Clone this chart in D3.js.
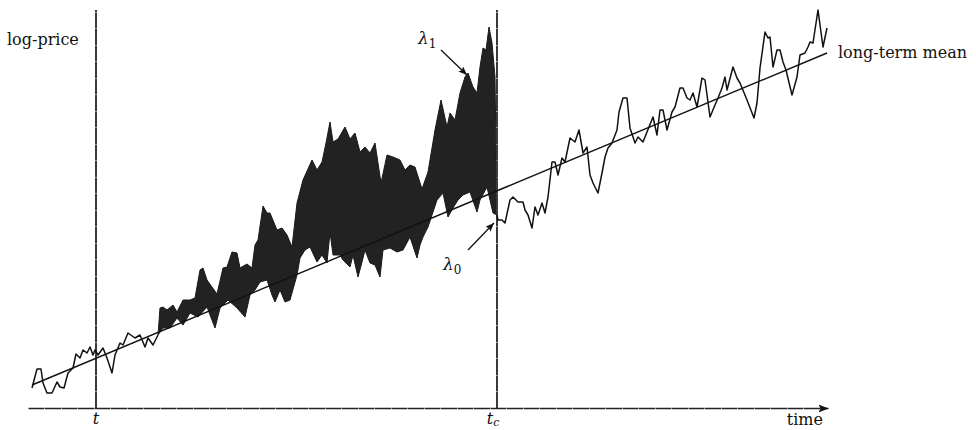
<html>
<head>
  <meta charset="utf-8">
  <title>log-price</title>
  <style>
    body { margin: 0; background: #fff; }
    text { font-family: "DejaVu Serif", "Liberation Serif", serif; fill: #111; }
  </style>
</head>
<body>
<script src="https://d3js.org/d3.v7.min.js"></script>
<script>

// [time, log-price]
var pricePre = [
  [4,20],[9,39],[13,39],[15,25],[19,15],[24,15],[29,26],[32,21],[36,20],[40,35],
  [45,40],[48,54],[52,50],[55,58],[59,55],[62,61],[65,53],[67,58],[70,53],[75,60],
  [79,50],[84,35],[87,53],[92,65],[95,63],[100,75],[107,70],[112,73],[117,61],[120,70],
  [125,63],[130,73]
];

// upper and lower edge of the dense (shaded) part
var bandUpper = [
  [130,73],[132,100],[135,101],[139,98],[145,103],[149,96],[155,108],[162,108],[167,110],[172,138],
  [175,140],[179,128],[189,114],[195,140],[199,141],[204,156],[209,155],[212,140],[219,144],[224,140],
  [227,163],[230,168],[235,202],[239,195],[242,195],[249,178],[254,180],[259,173],[264,161],[269,205],
  [275,228],[284,248],[289,238],[294,246],[298,265],[302,286],[305,266],[310,269],[317,281],[322,269],
  [327,275],[332,256],[337,261],[342,255],[347,265],[353,225],[359,253],[365,251],[372,248],[377,238],
  [382,243],[387,241],[394,219],[400,236],[407,278],[413,308],[419,281],[422,295],[427,288],[432,315],
  [437,331],[440,335],[445,321],[449,315],[452,341],[455,360],[458,358],[461,381],[464,365],[467,331],
  [468,258],[469,193]
];
var bandLower = [
  [130,73],[135,80],[142,80],[149,90],[155,83],[162,95],[170,91],[179,101],[187,80],[192,100],
  [200,108],[209,100],[217,91],[222,113],[227,118],[232,126],[239,128],[244,113],[247,106],[252,118],
  [257,106],[262,108],[269,133],[272,150],[277,158],[282,161],[289,146],[294,153],[299,145],[302,176],
  [305,153],[312,153],[315,148],[322,141],[325,153],[330,131],[334,146],[337,158],[342,145],[347,143],
  [352,131],[355,158],[362,160],[369,156],[375,158],[382,171],[389,150],[392,163],[395,171],[400,181],
  [404,193],[409,208],[415,215],[420,191],[425,200],[430,208],[435,213],[442,216],[449,196],[452,208],
  [459,221],[465,195],[469,193]
];

var pricePost = [
  [469,193],[470,188],[474,188],[477,185],[482,208],[485,211],[490,206],[495,206],[497,198],[500,193],
  [504,180],[507,201],[510,193],[514,205],[517,195],[520,211],[524,246],[527,246],[530,233],[534,250],
  [537,246],[542,270],[547,266],[551,278],[555,255],[559,261],[562,233],[565,225],[570,215],[574,235],
  [577,251],[580,260],[584,265],[589,278],[591,296],[595,310],[599,310],[602,280],[607,265],[610,271],
  [615,266],[619,276],[625,291],[629,273],[632,298],[635,298],[639,278],[644,296],[647,301],[652,320],
  [655,320],[659,310],[662,308],[665,315],[669,301],[674,330],[677,328],[682,291],[687,303],[690,310],
  [694,320],[697,331],[699,318],[705,341],[709,330],[712,325],[719,308],[726,290],[729,305],[732,340],
  [737,376],[740,370],[742,371],[745,341],[749,358],[752,358],[755,346],[758,338],[764,313],[769,331],
  [772,353],[777,355],[780,361],[782,366],[785,365],[790,398],[795,361],[799,380]
];

var meanLine = [[4,23],[799,355]];

var markerTimes = [68, 469];
var markerLabels = ["t", "c"];   // second one is t with subscript c

// annotation arrows: [from, to], label position
var notes = [
  {name: "1", from: [413,358], to: [439,333], at: [390,364]},
  {name: "0", from: [440,158], to: [466,185], at: [415,138]}
];

var svg = d3.select("body").append("svg")
    .attr("width", 976)
    .attr("height", 430);

var x = d3.scaleLinear().domain([0, 800]).range([28, 828]);
var y = d3.scaleLinear().domain([0, 400]).range([408, 8]);

var line = d3.line()
    .x(function(d) { return x(d[0]); })
    .y(function(d) { return y(d[1]); });

var defs = svg.append("defs");
defs.append("marker")
    .attr("id", "axisArrow")
    .attr("viewBox", "0 0 10 8")
    .attr("refX", 10).attr("refY", 4)
    .attr("markerWidth", 10).attr("markerHeight", 8)
    .attr("markerUnits", "userSpaceOnUse")
    .attr("orient", "auto")
  .append("path")
    .attr("d", "M0,0L10,4L0,8L2,4Z")
    .attr("fill", "#111");
defs.append("marker")
    .attr("id", "noteArrow")
    .attr("viewBox", "0 0 10 8")
    .attr("refX", 10).attr("refY", 4)
    .attr("markerWidth", 9).attr("markerHeight", 7)
    .attr("markerUnits", "userSpaceOnUse")
    .attr("orient", "auto")
  .append("path")
    .attr("d", "M0,0L10,4L0,8L2,4Z")
    .attr("fill", "#111");

// shaded band
svg.append("path")
    .attr("d", line(bandUpper.concat(bandLower.slice().reverse())) + "Z")
    .attr("fill", "#222")
    .attr("stroke", "#1a1a1a")
    .attr("stroke-width", 1);

// vertical markers t and t_c
svg.selectAll(".mark")
    .data(markerTimes)
  .enter().append("line")
    .attr("class", "mark")
    .attr("x1", function(d) { return x(d); })
    .attr("x2", function(d) { return x(d); })
    .attr("y1", y(0))
    .attr("y2", y(398))
    .attr("stroke", "#3a3a3a")
    .attr("stroke-width", 2)
    .attr("stroke-dasharray", "16,0.5");

// time axis with arrow
var xAxis = d3.axisBottom(x).tickValues([]).tickSizeOuter(0);
var ax = svg.append("g")
    .attr("transform", "translate(0," + y(0) + ")")
    .call(xAxis);
ax.select(".domain")
    .attr("stroke", "#222")
    .attr("stroke-width", 1.6)
    .attr("stroke-dasharray", "16,0.5")
    .attr("marker-end", "url(#axisArrow)");

// long-term mean
svg.append("path")
    .attr("d", line(meanLine))
    .attr("fill", "none")
    .attr("stroke", "#111")
    .attr("stroke-width", 1.4);

// price path
[pricePre, pricePost].forEach(function(seg) {
  svg.append("path")
      .attr("d", line(seg))
      .attr("fill", "none")
      .attr("stroke", "#111")
      .attr("stroke-width", 1.5)
      .attr("stroke-linejoin", "round");
});

// labels
svg.append("text")
    .attr("x", 7).attr("y", 45)
    .attr("font-size", 16)
    .text("log-price");

svg.append("text")
    .attr("x", x(meanLine[1][0]) + 11).attr("y", y(meanLine[1][1]) + 5)
    .attr("font-size", 16)
    .text("long-term mean");

svg.append("text")
    .attr("x", 823).attr("y", 425)
    .attr("text-anchor", "end")
    .attr("font-size", 16)
    .text("time");

svg.selectAll(".mlabel")
    .data(markerTimes)
  .enter().append("text")
    .attr("class", "mlabel")
    .attr("x", function(d, i) { return x(d) - (i ? 4 : 0); })
    .attr("y", 424)
    .attr("text-anchor", "middle")
    .attr("font-size", 16)
    .attr("font-style", "italic")
    .each(function(d, i) {
      d3.select(this).append("tspan").text("t");
      if (i) d3.select(this).append("tspan").attr("dy", 2).attr("font-size", 11).text(markerLabels[i]);
    });

notes.forEach(function(n) {
  svg.append("line")
      .attr("x1", x(n.from[0])).attr("y1", y(n.from[1]))
      .attr("x2", x(n.to[0])).attr("y2", y(n.to[1]))
      .attr("stroke", "#111")
      .attr("stroke-width", 1.3)
      .attr("marker-end", "url(#noteArrow)");
  var t = svg.append("text")
      .attr("x", x(n.at[0])).attr("y", y(n.at[1]))
      .attr("font-size", 17)
      .attr("font-style", "italic");
  t.append("tspan").text("λ");
  t.append("tspan").attr("dy", 4).attr("font-size", 12).attr("font-style", "normal").text(n.name);
});

</script>
</body>
</html>
